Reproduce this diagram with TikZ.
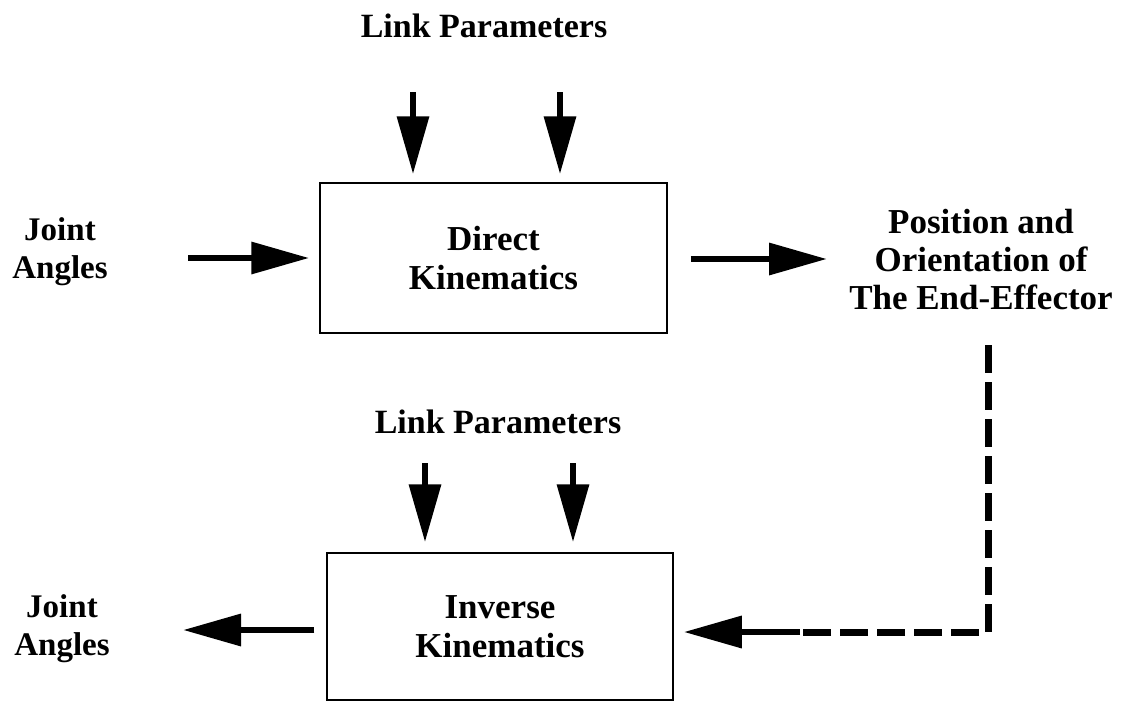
\documentclass[tikz,border=0pt]{standalone}
\usepackage{fontspec}
\setmainfont{Liberation Serif}
\usetikzlibrary{arrows.meta}
\begin{document}
\begin{tikzpicture}[x=1pt,y=-1pt,
  box/.style={draw, line width=1.5pt, align=center, inner sep=0pt,
    font=\fontsize{35}{39}\selectfont\bfseries},
  lbl/.style={inner sep=0pt, anchor=base, font=\fontsize{34}{38}\selectfont\bfseries},
  blbl/.style={align=center, inner sep=0pt, font=\fontsize{33}{38}\selectfont\bfseries},
  plbl/.style={align=center, inner sep=0pt, font=\fontsize{35}{38}\selectfont\bfseries},
  bigarrow/.style={line width=6.5pt, -{Triangle[length=58pt,width=31pt]}},
  dashline/.style={line width=7pt, dash pattern=on 28pt off 9pt}
]
\useasboundingbox (0,0) rectangle (1121,702);

% boxes
\node[box, minimum width=347pt, minimum height=150pt] (dk) at (493.5,258) {Direct\\Kinematics};
\node[box, minimum width=346pt, minimum height=147pt] (ik) at (500,626.5) {Inverse\\Kinematics};

% labels
\node[lbl] (lp1) at (484,37) {Link Parameters};
\node[lbl] (lp2) at (498,433) {Link Parameters};
\node[blbl] (ja1) at (60,252) {Joint\\Angles};
\node[blbl] (ja2) at (62,629) {Joint\\Angles};
\node[plbl] (pos) at (981,260) {Position and\\Orientation of\\The End-Effector};

% coordinates for free ends
\coordinate (a1) at (413,92);
\coordinate (a2) at (560,92);
\coordinate (b1) at (425,463);
\coordinate (b2) at (573,463);
\coordinate (c1) at (188,258);
\coordinate (d2) at (827,259);
\coordinate (e2) at (183,630);
\coordinate (f1) at (988,345);
\coordinate (f2) at (988,632);
\coordinate (g) at (800,632);

% arrows
\draw[bigarrow, shorten >=8pt] (a1) -- (a1 |- dk.north);
\draw[bigarrow, shorten >=8pt] (a2) -- (a2 |- dk.north);
\draw[bigarrow, shorten >=10pt] (b1) -- (b1 |- ik.north);
\draw[bigarrow, shorten >=10pt] (b2) -- (b2 |- ik.north);
\draw[bigarrow, shorten >=10pt] (c1) -- (c1 -| dk.west);
\draw[bigarrow, shorten <=23pt] (dk.east |- d2) -- (d2);
\draw[bigarrow, shorten <=12pt] (ik.west |- e2) -- (e2);
\draw[dashline, line join=round] (f1) -- (f2) -- (g);
\draw[bigarrow, shorten >=10pt] (g) -- (g -| ik.east);
\end{tikzpicture}
\end{document}
